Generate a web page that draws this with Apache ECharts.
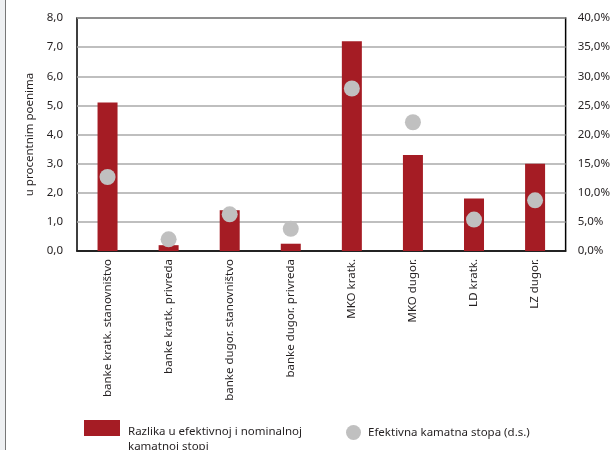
<!DOCTYPE html>
<html><head><meta charset="utf-8">
<script src="https://cdn.jsdelivr.net/npm/echarts@6/dist/echarts.min.js"></script>
<style>html,body{margin:0;padding:0;background:#fff}#c{width:613px;height:450px}</style>
</head><body><div id="c"></div>
<script>
const categories = ['banke kratk. stanovništvo','banke kratk. privreda','banke dugor. stanovništvo','banke dugor. privreda','MKO kratk.','MKO dugor.','LD kratk.','LZ dugor.'];
const spread = [5.1, 0.2, 1.4, 0.25, 7.2, 3.3, 1.8, 3.0];
const effRate = [12.7, 2.0, 6.3, 3.8, 27.9, 22.1, 5.4, 8.7];
const barNameLines = ['Razlika u efektivnoj i nominalnoj', 'kamatnoj stopi'];
const barName = barNameLines.join(' ');
const dotName = 'Efektivna kamatna stopa (d.s.)';
const FONT = 'Noto Sans';
const chart = echarts.init(document.getElementById('c'));
const fmt = v => v.toFixed(1).replace('.', ',');
chart.setOption({
  animation: false,
  textStyle: {fontFamily: FONT},
  grid: {left: 77, right: 43, top: 18, bottom: 199, show: true, borderColor: '#000', borderWidth: 1.5},
  graphic: [
    {type: 'rect', shape: {x: 0, y: 0, width: 5, height: 450}, style: {fill: '#eef0f2'}, silent: true},
    {type: 'line', shape: {x1: 5.5, y1: 0, x2: 5.5, y2: 450}, style: {stroke: '#777', lineWidth: 1}, silent: true}
  ],
  legend: [
    {data: [{name: barName, icon: 'rect'}], left: 79, top: 396.5, itemWidth: 36, itemHeight: 16, itemGap: 8,
     formatter: () => '{s| }\n' + barNameLines.map(l => '{t|' + l + '}').join('\n'),
     textStyle: {fontSize: 11.5, color: '#231f20', fontFamily: FONT, padding: [0, 0, 0, 3],
       rich: {s: {height: 23, lineHeight: 23, fontSize: 11.5}, t: {lineHeight: 15, fontSize: 11.5, color: '#231f20', fontFamily: FONT}}}},
    {data: [{name: dotName, icon: 'circle'}], left: 341, top: 420, itemWidth: 15, itemHeight: 15, itemGap: 8,
     textStyle: {fontSize: 11.5, color: '#231f20', fontFamily: FONT, padding: [0, 0, 0, 2]}}
  ],
  xAxis: {
    type: 'category', data: categories,
    axisLine: {lineStyle: {color: '#000', width: 1.5}},
    axisTick: {show: false},
    axisLabel: {rotate: 90, interval: 0, fontSize: 11.5, color: '#231f20', margin: 8, fontFamily: FONT}
  },
  yAxis: [
    {type: 'value', min: 0, max: 8, interval: 1, name: 'u procentnim poenima', nameLocation: 'middle', nameGap: 37,
     nameTextStyle: {fontSize: 11.5, color: '#231f20', fontFamily: FONT},
     axisLine: {show: false}, axisTick: {show: false},
     axisLabel: {formatter: v => fmt(v), fontSize: 11.5, color: '#231f20', margin: 14},
     splitLine: {lineStyle: {color: '#aaa', width: 1.5}}},
    {type: 'value', min: 0, max: 40, interval: 5, position: 'right',
     axisLine: {show: false}, axisTick: {show: false},
     axisLabel: {formatter: v => fmt(v) + '%', fontSize: 11.5, color: '#231f20', margin: 12},
     splitLine: {show: false}}
  ],
  series: [
    {name: barName, type: 'bar', data: spread, barWidth: 20, itemStyle: {color: '#a51c24'}, yAxisIndex: 0},
    {name: dotName, type: 'scatter', data: effRate, yAxisIndex: 1, symbolSize: 16, itemStyle: {color: '#c0c0c0', opacity: 1}}
  ]
});
</script></body></html>
